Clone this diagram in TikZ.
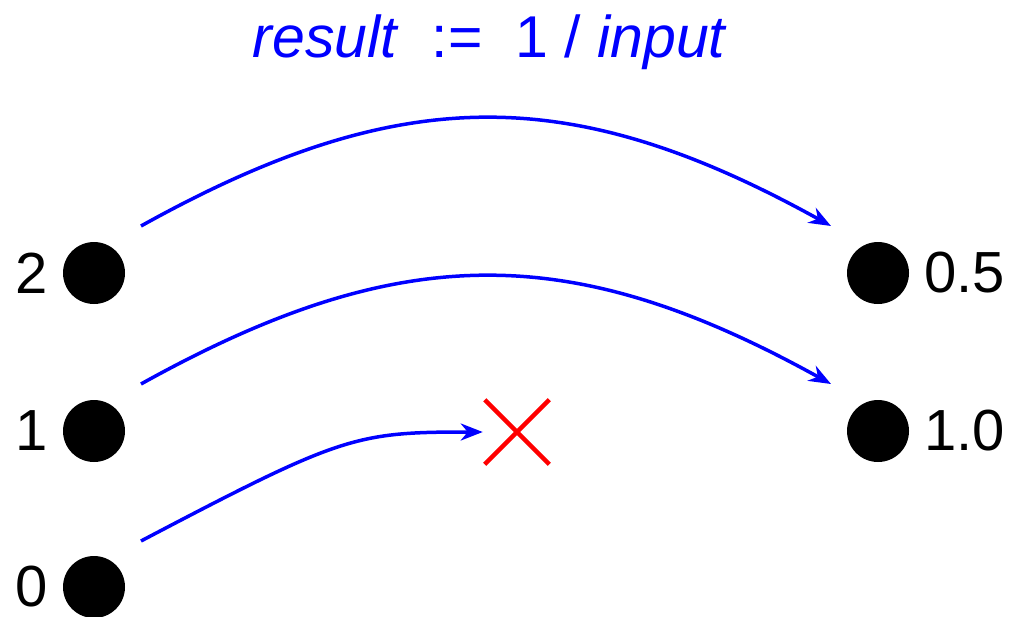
\documentclass[tikz,border=0pt]{standalone}
\usepackage{fontspec}
\setmainfont{Liberation Sans}
\usepackage{tikz}
\usetikzlibrary{
    arrows.meta,
    positioning,
    shapes.misc
}

\begin{document}
\begin{tikzpicture}[x=1pt, y=-1pt,
    dot/.style={circle, fill=black, inner sep=0pt, minimum size=62pt},
    numlabel/.style={inner sep=0pt, font=\fontsize{58}{62}\selectfont},
    maparrow/.style={draw=blue, line width=3.5pt,
        -{Stealth[length=22pt, width=17pt, inset=7pt]}},
    xmarkstyle/.style={cross out, draw=red, line width=4.5pt,
        inner sep=0pt, minimum size=60pt}
]
\useasboundingbox (0,0) rectangle (1014,616);

% Title
\node[anchor=base, text=blue, inner sep=0pt, font=\fontsize{59}{63}\selectfont]
    (title) at (490,57) {\textit{result}\ \ :=\ \ 1 / \textit{input}};

% Inputs
\node[dot] (l2) at (94,273) {};
\node[dot] (l1) at (94,431) {};
\node[dot] (l0) at (94,587) {};
\node[numlabel, left=15pt of l2] {2};
\node[numlabel, left=15pt of l1] {1};
\node[numlabel, left=15pt of l0] {0};

% Results
\node[dot] (r2) at (878,273) {};
\node[dot] (r1) at (878,431) {};
\node[numlabel, right=15pt of r2] {0.5};
\node[numlabel, right=15pt of r1] {1.0};

% Undefined result
\node[xmarkstyle] (xmark) at (517,432) {};

% Mappings
\draw[maparrow] ([shift={(47,-47)}]l2.center)
    .. controls +(259,-144) and +(-260,-144) .. ([shift={(-47,-47)}]r2.center);
\draw[maparrow] ([shift={(47,-47)}]l1.center)
    .. controls +(259,-144) and +(-260,-144) .. ([shift={(-47,-47)}]r1.center);
\draw[maparrow, shorten >=2pt] ([shift={(47,-46)}]l0.center)
    .. controls +(200,-105) and +(-130,0) .. (xmark.west);

\end{tikzpicture}
\end{document}
